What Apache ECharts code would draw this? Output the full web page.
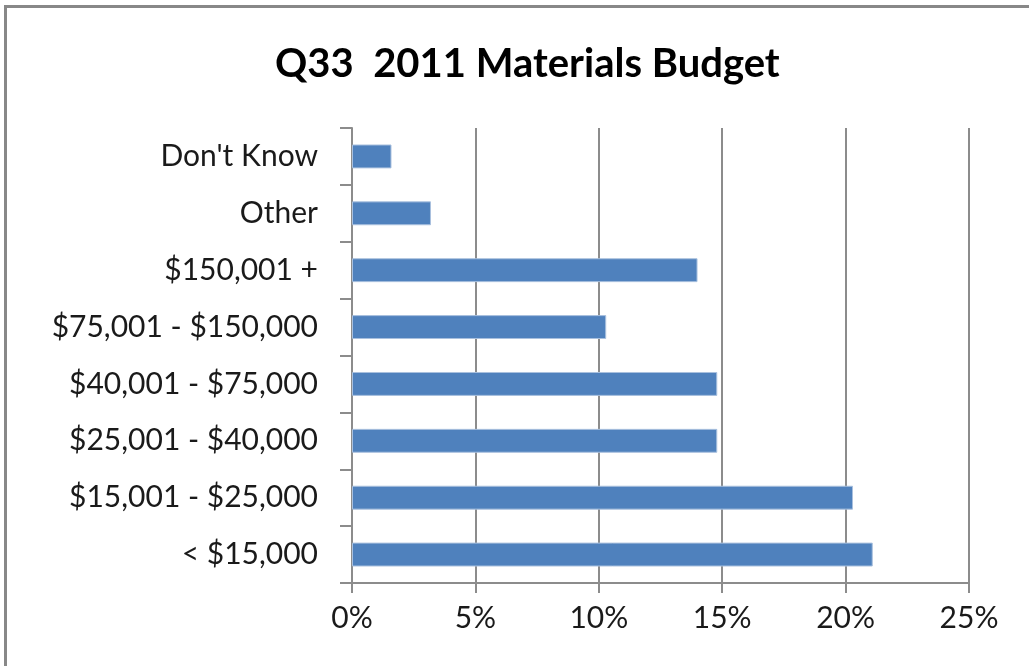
<!DOCTYPE html>
<html>
<head>
<meta charset="utf-8">
<script src="https://cdn.jsdelivr.net/npm/echarts@6/dist/echarts.min.js"></script>
<style>
  html, body { margin: 0; padding: 0; background: #fff; }
  #chart { width: 1029px; height: 666px; }
</style>
</head>
<body>
<div id="chart"></div>
<script>
// Budget ranges, listed top to bottom
const categories = [
  "Don't Know",
  "Other",
  "$150,001 +",
  "$75,001 - $150,000",
  "$40,001 - $75,000",
  "$25,001 - $40,000",
  "$15,001 - $25,000",
  "< $15,000"
];
// Share of respondents, percent
const shares = [1.6, 3.2, 14.0, 10.3, 14.8, 14.8, 20.3, 21.1];
const xTicks = [0, 5, 10, 15, 20, 25];

const FONT = 'Lato, "Open Sans", sans-serif';
const chart = echarts.init(document.getElementById('chart'), null, { renderer: 'canvas' });

chart.setOption({
  animation: false,
  backgroundColor: '#fff',
  title: {
    text: 'Q33  2011 Materials Budget',
    left: 270,
    top: 39,
    textStyle: { fontFamily: FONT, fontWeight: 'bold', fontSize: 40, color: '#000' }
  },
  graphic: [{
    type: 'rect',
    shape: { x: 5.5, y: 6.5, width: 1100, height: 800 },
    style: { fill: null, stroke: '#888', lineWidth: 3 },
    silent: true
  }],
  grid: { left: 352, right: 60, top: 128, bottom: 83, containLabel: false },
  xAxis: {
    type: 'value',
    min: xTicks[0],
    max: xTicks[xTicks.length - 1],
    interval: 5,
    axisLine: { show: true, lineStyle: { color: '#8c8c8c', width: 2 } },
    axisTick: { show: true, length: 10, lineStyle: { color: '#8c8c8c', width: 2 } },
    splitLine: { show: true, lineStyle: { color: '#8c8c8c', width: 2 } },
    axisLabel: {
      formatter: v => v + '%',
      margin: 20,
      fontFamily: FONT, fontSize: 30, color: '#1a1a1a'
    }
  },
  yAxis: {
    type: 'category',
    data: categories,
    inverse: true,
    axisLine: { show: true, lineStyle: { color: '#8c8c8c', width: 2 } },
    axisTick: { show: true, length: 12, lineStyle: { color: '#8c8c8c', width: 2 } },
    axisLabel: { margin: 34, fontFamily: FONT, fontSize: 30, color: '#1a1a1a' }
  },
  series: [{
    type: 'bar',
    data: shares,
    barWidth: '42%',
    itemStyle: { color: '#4F81BD', borderColor: '#a9c0de', borderWidth: 1 }
  }]
});
</script>
</body>
</html>
